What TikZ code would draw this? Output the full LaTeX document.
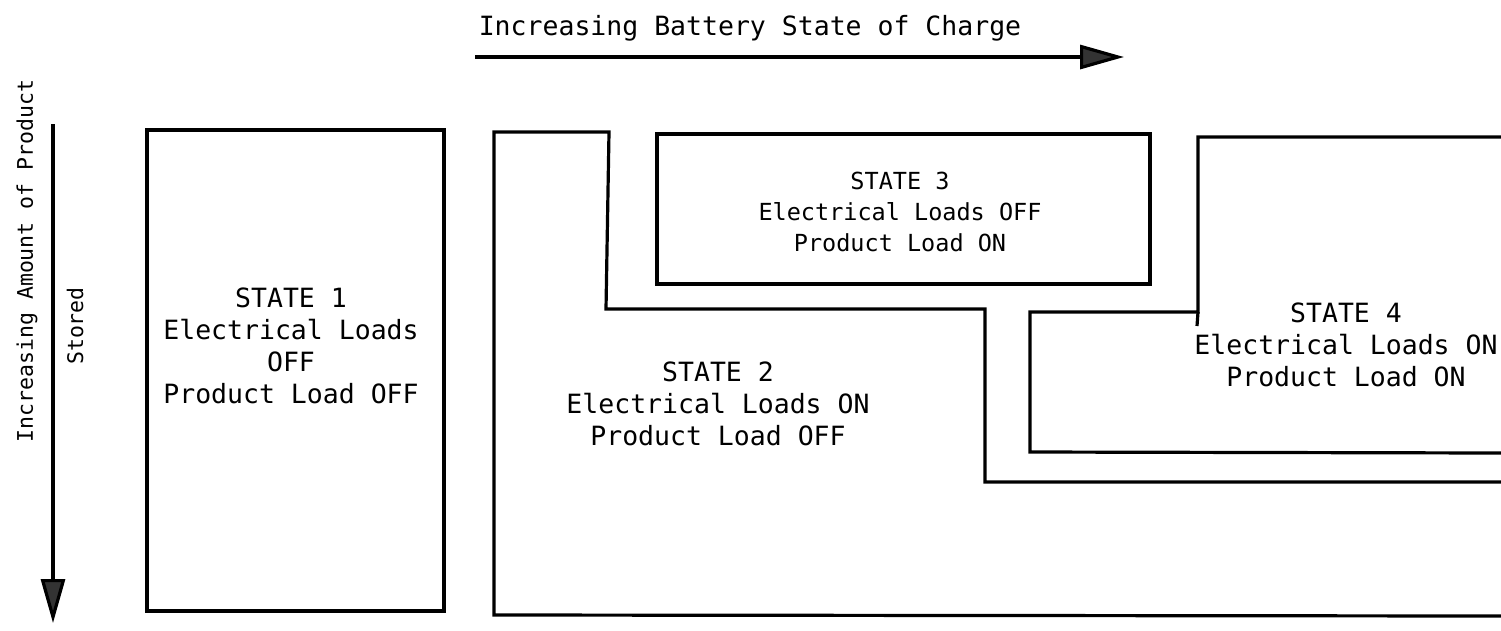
\documentclass[tikz,border=0pt]{standalone}
\usepackage{fontspec}
\setmonofont{DejaVu Sans Mono}
\usetikzlibrary{arrows.meta}
\tikzset{
  wall/.style={line width=3.2pt, line join=miter, line cap=butt},
  axisarrow/.style={line width=3.2pt, -{Triangle[length=44pt,width=24pt,fill=black!80]}},
  statetext/.style={font=\ttfamily\fontsize{26.5}{32}\selectfont, align=center, inner sep=0pt},
  axistext/.style={font=\ttfamily\fontsize{26.5}{32}\selectfont, inner sep=0pt},
  sidetext/.style={font=\ttfamily\fontsize{21.5}{26}\selectfont, inner sep=0pt, rotate=90},
}
\begin{document}
\begin{tikzpicture}[x=1pt,y=-1pt]
\useasboundingbox (0,0) rectangle (1501,630);
% horizontal axis
\node[axistext] (toplabel) at (750,28) {Increasing Battery State of Charge};
\coordinate (hstart) at (475,57);
\coordinate (hend) at (1124,57);
\draw[axisarrow] (hstart) -- (hend);
% vertical axis
\node[sidetext] (leftlabel) at (27,261) {Increasing Amount of Product};
\node[sidetext] (stored) at (75,326) {Stored};
\coordinate (vstart) at (53,124);
\coordinate (vend) at (53,623);
\draw[axisarrow] (vstart) -- (vend);
% state 1
\draw[wall] (147,130) rectangle (444,611);
\node[statetext] (s1) at (291,346) {STATE 1\\Electrical Loads\\OFF\\Product Load OFF};
% state 2
\draw[wall] (1501,482) -- (985,482) -- (985,309) -- (606,309) -- (609,132) -- (494,132) -- (494,615) -- (1501,616);
\node[statetext] (s2) at (718,404) {STATE 2\\Electrical Loads ON\\Product Load OFF};
% state 3
\draw[wall] (657,134) rectangle (1150,284);
\node[statetext, font=\ttfamily\fontsize{23.5}{31}\selectfont] (s3) at (900,212) {STATE 3\\Electrical Loads OFF\\Product Load ON};
% state 4
\draw[wall] (1501,137) -- (1198,137) -- (1198,312) -- (1030,312) -- (1030,452) -- (1501,453);
\draw[wall] (1198,312) -- (1197,326);
\node[statetext] (s4) at (1346,345) {STATE 4\\Electrical Loads ON\\Product Load ON};
\end{tikzpicture}
\end{document}
